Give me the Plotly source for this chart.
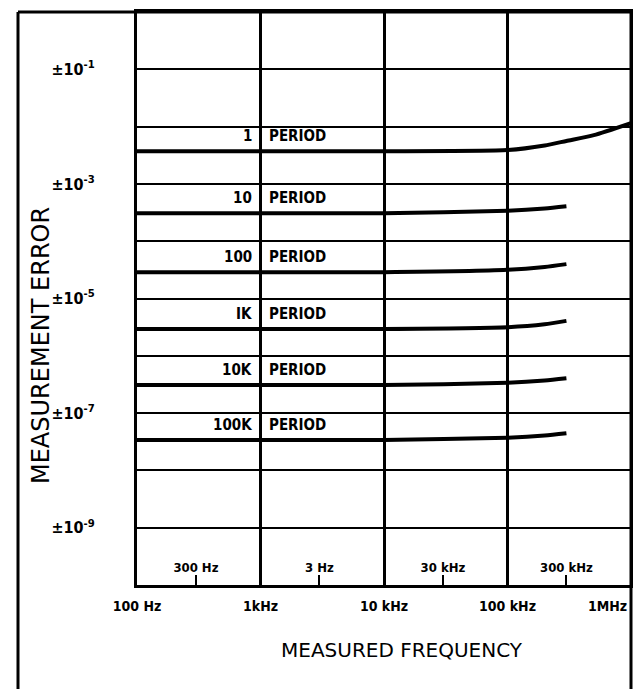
import math
import plotly.graph_objects as go

# ---- data ----
freq = [100, 1e3, 1e4, 1e5, 2e5, 3e5, 5e5, 1e6]
freq_short = [100, 1e3, 1e4, 1e5, 2e5, 3e5]

err_1 = [3.72e-3, 3.72e-3, 3.72e-3, 3.89e-3, 4.68e-3, 5.62e-3, 7.08e-3, 1.15e-2]
err_10 = [3.09e-4, 3.09e-4, 3.09e-4, 3.39e-4, 3.72e-4, 4.07e-4]
err_100 = [2.88e-5, 2.88e-5, 2.88e-5, 3.16e-5, 3.55e-5, 3.98e-5]
err_1k = [2.95e-6, 2.95e-6, 2.95e-6, 3.16e-6, 3.55e-6, 4.07e-6]
err_10k = [3.09e-7, 3.09e-7, 3.09e-7, 3.39e-7, 3.72e-7, 4.07e-7]
err_100k = [3.39e-8, 3.39e-8, 3.39e-8, 3.72e-8, 4.07e-8, 4.47e-8]

series_names = ["1", "10", "100", "IK", "10K", "100K"]
series_x = [freq, freq_short, freq_short, freq_short, freq_short, freq_short]
series_y = [err_1, err_10, err_100, err_1k, err_10k, err_100k]

y_tickvals = [1e-1, 1e-3, 1e-5, 1e-7, 1e-9]
y_ticktext = ["±10<sup>-1</sup>", "±10<sup>-3</sup>", "±10<sup>-5</sup>",
              "±10<sup>-7</sup>", "±10<sup>-9</sup>"]
y_minor_vals = [1e-2, 1e-4, 1e-6, 1e-8]

x_tickvals = [100, 1e3, 1e4, 1e5]
x_ticktext = ["100 Hz", "1kHz", "10 kHz", "100 kHz"]
x_end_val = 1e6
x_end_text = "1MHz"

x_minor_vals = [300, 3e3, 3e4, 3e5]
x_minor_text = ["300 Hz", "3 Hz", "30 kHz", "300 kHz"]

label_freq = 1e3

FONT = "DejaVu Sans Condensed, Liberation Sans Narrow, Arial Narrow, sans-serif"

# page body has an 8px margin; figure geometry is expressed in page pixels
OFF = 8
W, H = 641 - OFF, 689 - OFF
PL, PR, PT, PB = 137, 631, 12, 585  # plot area in page pixels
pw, ph = PR - PL, PB - PT


def px(xp):
    return (xp - PL) / pw


def py(yp):
    return (PB - yp) / ph


fig = go.Figure()
for name, xs, ys in zip(series_names, series_x, series_y):
    fig.add_trace(go.Scatter(
        x=xs, y=ys, mode="lines", name=name,
        line=dict(color="black", width=4, shape="spline", smoothing=0.6),
        showlegend=False, hoverinfo="skip"))
    y_at = ys[xs.index(label_freq)]
    fig.add_annotation(x=math.log10(label_freq), y=math.log10(y_at), xref="x", yref="y",
                       text="<b>" + name + "</b>", showarrow=False, xanchor="right",
                       yanchor="middle", xshift=-7, yshift=15,
                       font=dict(family=FONT, size=15, color="black"))
    fig.add_annotation(x=math.log10(label_freq), y=math.log10(y_at), xref="x", yref="y",
                       text="<b>PERIOD</b>", showarrow=False, xanchor="left",
                       yanchor="middle", xshift=6, yshift=15,
                       font=dict(family=FONT, size=15, color="black"))

# labelled ticks inside the plot (second x axis)
fig.add_trace(go.Scatter(x=[100, 1e6], y=[1e-10, 1e-10], xaxis="x2", mode="markers",
                         marker=dict(opacity=0), showlegend=False, hoverinfo="skip"))

fig.update_layout(
    width=W, height=H,
    margin=dict(l=PL - OFF, r=W + OFF - PR, t=PT - OFF, b=H + OFF - PB),
    paper_bgcolor="white", plot_bgcolor="white",
    font=dict(family=FONT, color="black"),
    xaxis=dict(type="log", range=[2, 6], tickvals=x_tickvals, ticktext=x_ticktext,
               showgrid=True, gridcolor="black", gridwidth=3,
               showline=True, linecolor="black", linewidth=3, mirror=True,
               ticks="", tickfont=dict(family=FONT, size=14, color="black", weight="bold"),
               ticklabelstandoff=6, zeroline=False, automargin=False),
    xaxis2=dict(type="log", range=[2, 6], matches="x", overlaying="x", anchor="y",
                side="bottom", tickvals=x_minor_vals, ticktext=x_minor_text,
                ticks="inside", ticklen=10, tickwidth=2, tickcolor="black",
                ticklabelposition="inside", showgrid=False, showline=False,
                tickfont=dict(family=FONT, size=13, color="black", weight="bold"),
                automargin=False),
    yaxis=dict(type="log", range=[-10, 0], tickvals=y_tickvals, ticktext=y_ticktext,
               showgrid=True, gridcolor="black", gridwidth=2,
               minor=dict(tickvals=y_minor_vals, showgrid=True, gridcolor="black",
                          gridwidth=2, ticks=""),
               showline=True, linecolor="black", linewidth=3, mirror=True,
               ticks="", ticklabelstandoff=36,
               tickfont=dict(family=FONT, size=16, color="black", weight="bold"),
               zeroline=False, automargin=False),
)

# last frequency label sits flush against the right frame
fig.add_annotation(x=math.log10(x_end_val), y=0, xref="x", yref="paper",
                   text=x_end_text, showarrow=False, xanchor="right", yanchor="top",
                   xshift=-2, yshift=-11,
                   font=dict(family=FONT, size=14, color="black", weight="bold"))

# outer frame
x_left = px(18)
fig.add_shape(type="line", xref="paper", yref="paper", x0=x_left, x1=1, y0=1, y1=1,
              line=dict(color="black", width=3))
fig.add_shape(type="line", xref="paper", yref="paper", x0=x_left, x1=x_left, y0=1, y1=-0.25,
              line=dict(color="black", width=3))
fig.add_shape(type="line", xref="paper", yref="paper", x0=1, x1=1, y0=1, y1=-0.25,
              line=dict(color="black", width=3))

fig.add_annotation(xref="paper", yref="paper", x=px(41), y=py(346),
                   xanchor="center", yanchor="middle",
                   text="MEASUREMENT ERROR", textangle=-90, showarrow=False,
                   font=dict(family="DejaVu Sans, sans-serif", size=24, color="black"))
fig.add_annotation(xref="paper", yref="paper", x=px(402), y=py(650),
                   xanchor="center", yanchor="middle",
                   text="MEASURED FREQUENCY", showarrow=False,
                   font=dict(family="DejaVu Sans, sans-serif", size=20, color="black"))

fig.write_html("out.html")
